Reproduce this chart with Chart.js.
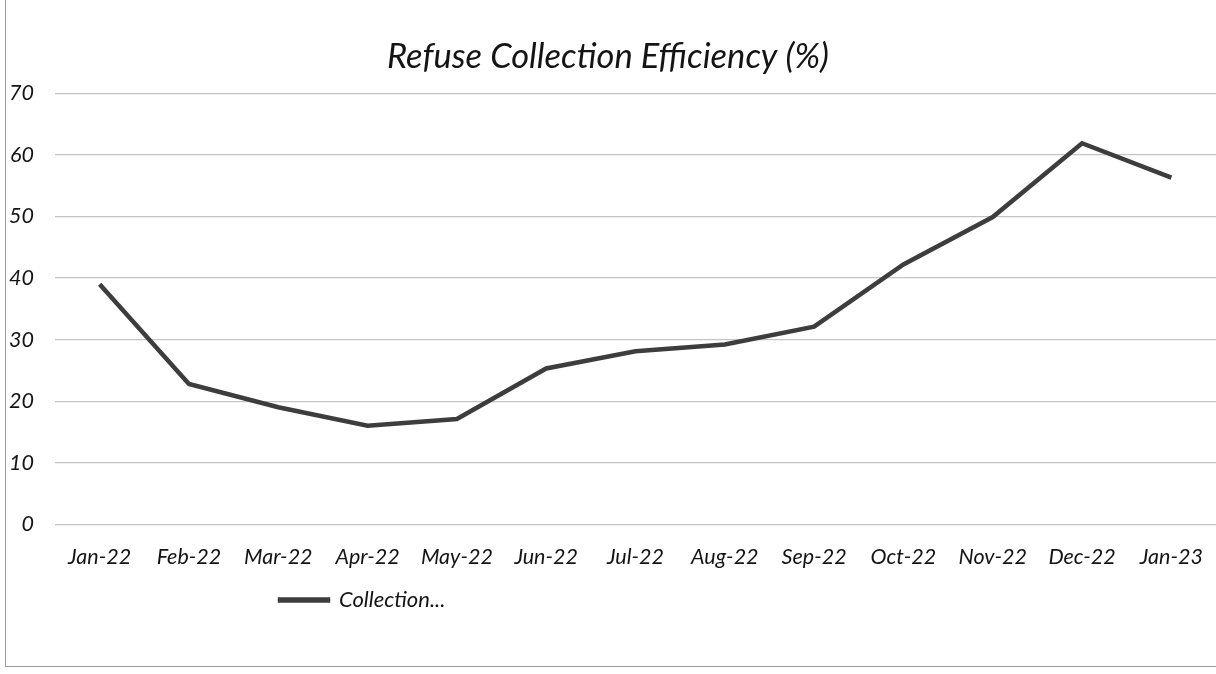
<!DOCTYPE html>
<html>
<head>
<meta charset="utf-8">
<script src="https://cdn.jsdelivr.net/npm/chart.js@4"></script>
<style>
  html, body { margin: 0; padding: 0; background: #fff; }
  #wrap { position: relative; width: 1216px; height: 674px; overflow: hidden; }
  #frame { position: absolute; left: 5px; top: -2px; width: 1300px; height: 668px; border-left: 1px solid #9a9a9a; border-bottom: 1px solid #9a9a9a; pointer-events: none; }
  #chart { display: block; }
</style>
</head>
<body>
<div id="wrap"><canvas id="chart" width="1216" height="674"></canvas><div id="frame"></div></div>
<script>
// data
const months = ['Jan-22', 'Feb-22', 'Mar-22', 'Apr-22', 'May-22', 'Jun-22', 'Jul-22',
                'Aug-22', 'Sep-22', 'Oct-22', 'Nov-22', 'Dec-22', 'Jan-23'];
const collection = [39, 22.8, 19, 16, 17.1, 25.3, 28.1, 29.2, 32.1, 42.2, 49.9, 61.9, 56.3];
const seriesName = 'Collection...';
const yTicks = [0, 10, 20, 30, 40, 50, 60, 70];

const fontFamily = "Lato, 'Open Sans', sans-serif";
const textColor = '#141414';

// put the legend where the original has it (left of centre)
const legendPlace = {
    id: 'legendPlace',
    afterLayout(chart) {
        const lg = chart.legend;
        const h = lg.bottom - lg.top;
        lg.left += 270;
        lg.right += 270;
        lg.top = 579;
        lg.bottom = 579 + h;
    }
};

new Chart(document.getElementById('chart'), {
    type: 'line',
    data: {
        labels: months,
        datasets: [{
            label: seriesName,
            data: collection,
            borderColor: '#3d3d3d',
            backgroundColor: '#3d3d3d',
            borderWidth: 4.5,
            pointRadius: 0,
            tension: 0
        }]
    },
    options: {
        responsive: false,
        animation: false,
        layout: { padding: { left: 0, right: 0, top: 0, bottom: 42 } },
        plugins: {
            title: {
                display: true,
                text: 'Refuse Collection Efficiency (%)',
                color: textColor,
                font: { family: fontFamily, size: 34.5, style: 'italic', weight: 'normal' },
                padding: { top: 36, bottom: 16 }
            },
            legend: {
                display: true,
                position: 'bottom',
                align: 'start',
                labels: {
                    color: textColor,
                    font: { family: fontFamily, size: 22, style: 'italic' },
                    boxWidth: 48,
                    boxHeight: 1,
                    padding: 10
                }
            },
            tooltip: { enabled: false }
        },
        scales: {
            x: {
                offset: true,
                grid: { display: false, drawTicks: false },
                border: { display: false },
                ticks: {
                    color: textColor,
                    font: { family: fontFamily, size: 21.5, style: 'italic' },
                    maxRotation: 0,
                    autoSkip: false,
                    padding: 20
                },
                afterFit(axis) {
                    axis.paddingLeft = 0;
                    axis.paddingRight = 0;
                }
            },
            y: {
                min: 0,
                max: 70,
                afterBuildTicks(axis) {
                    axis.ticks = yTicks.map(v => ({ value: v }));
                },
                afterFit(axis) {
                    axis.width = 55;
                },
                grid: { color: '#c4c4c4', lineWidth: 1.2, drawTicks: false },
                border: { display: false },
                ticks: {
                    color: textColor,
                    font: { family: fontFamily, size: 21.5, style: 'italic' },
                    padding: 21
                }
            }
        }
    },
    plugins: [legendPlace]
});
</script>
</body>
</html>
